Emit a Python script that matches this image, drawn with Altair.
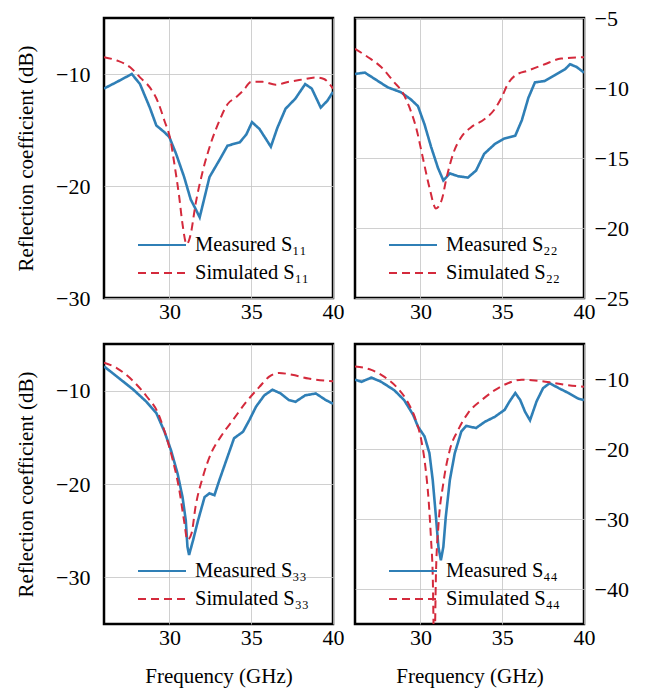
import altair as alt
import pandas as pd

BLUE = "#2f7fb6"
RED = "#d42a3c"
FONT = "Liberation Serif"

# ---- S11 ----
S11_MEAS_F = [26.0, 26.8, 27.7, 28.2, 28.8, 29.2, 29.7, 30.0, 30.4, 30.9, 31.3, 31.6, 31.85,
              32.05, 32.45, 33.05, 33.55, 34.3, 34.7, 35.05, 35.5, 35.9, 36.2, 36.6, 37.1,
              37.7, 38.3, 38.7, 39.25, 39.65, 40.0]
S11_MEAS_DB = [-11.3, -10.7, -10.0, -10.9, -13.0, -14.6, -15.2, -15.65, -17.1, -19.2, -21.2,
               -22.05, -22.8, -21.6, -19.2, -17.7, -16.4, -16.1, -15.4, -14.3, -14.9, -15.8,
               -16.5, -14.8, -13.1, -12.2, -10.9, -11.3, -13.0, -12.4, -11.6]
S11_SIM_F = [26.0, 26.8, 27.6, 28.2, 28.8, 29.3, 29.7, 30.05, 30.3, 30.6, 30.8, 31.05, 31.3,
             31.6, 32.05, 32.55, 33.05, 33.55, 34.05, 34.5, 35.0, 35.7, 36.5, 37.3, 38.1,
             38.95, 39.45, 40.0]
S11_SIM_DB = [-8.5, -8.8, -9.4, -10.3, -11.2, -12.5, -14.2, -15.8, -18.0, -21.0, -23.4, -25.2,
              -24.3, -21.6, -18.6, -16.1, -14.2, -12.7, -12.1, -11.5, -10.7, -10.7, -10.95,
              -10.7, -10.5, -10.3, -10.45, -11.3]

# ---- S22 ----
S22_MEAS_F = [26.0, 26.6, 27.2, 28.0, 28.8, 29.4, 29.85, 30.25, 30.65, 31.07, 31.4, 31.8,
              32.3, 32.9, 33.4, 33.9, 34.55, 35.15, 35.8, 36.2, 36.6, 37.0, 37.6, 38.2,
              38.85, 39.15, 39.55, 40.0]
S22_MEAS_DB = [-9.0, -8.9, -9.35, -9.95, -10.3, -10.8, -11.3, -12.6, -14.2, -15.7, -16.6,
               -16.1, -16.3, -16.4, -15.9, -14.7, -14.0, -13.6, -13.4, -12.3, -10.7, -9.6,
               -9.5, -9.1, -8.65, -8.3, -8.5, -8.9]
S22_SIM_F = [26.0, 26.8, 27.6, 28.4, 28.9, 29.3, 29.75, 30.15, 30.55, 30.95, 31.3, 31.6,
             32.0, 32.5, 33.1, 33.95, 34.55, 34.95, 35.35, 35.8, 36.6, 37.6, 38.6, 40.0]
S22_SIM_DB = [-7.2, -7.8, -8.5, -9.6, -10.3, -11.3, -12.9, -15.0, -17.1, -18.6, -18.0, -16.4,
              -14.7, -13.5, -12.8, -12.2, -11.5, -10.7, -9.7, -9.1, -8.75, -8.3, -7.9, -7.8]

# ---- S33 ----
S33_MEAS_F = [26.0, 26.8, 27.8, 28.6, 29.2, 29.7, 30.1, 30.5, 30.8, 31.0, 31.1, 31.2, 31.45,
              31.75, 32.15, 32.45, 32.75, 33.05, 33.55, 33.95, 34.5, 34.9, 35.3, 35.8, 36.3,
              36.8, 37.3, 37.7, 38.3, 38.95, 39.55, 40.0]
S33_MEAS_DB = [-7.4, -8.5, -9.9, -11.2, -12.4, -14.4, -16.4, -18.9, -21.4, -23.9, -26.7,
               -27.6, -26.0, -23.9, -21.4, -21.0, -21.2, -19.6, -17.1, -15.1, -14.4, -13.1,
               -11.7, -10.5, -9.9, -10.3, -11.0, -11.2, -10.5, -10.3, -11.0, -11.4]
S33_SIM_F = [26.0, 26.8, 27.8, 28.6, 29.3, 29.8, 30.2, 30.6, 30.9, 31.1, 31.35, 31.6, 32.05,
             32.55, 33.15, 33.9, 34.7, 35.5, 36.1, 36.7, 37.5, 38.5, 40.0]
S33_SIM_DB = [-7.0, -7.6, -9.0, -10.6, -12.4, -14.9, -17.4, -20.6, -24.0, -26.0, -25.3, -22.4,
              -19.2, -16.7, -14.9, -13.1, -11.2, -9.6, -8.5, -8.1, -8.3, -8.7, -9.0]

# ---- S44 ----
S44_MEAS_F = [26.0, 26.4, 27.0, 27.6, 28.4, 29.0, 29.55, 29.85, 30.25, 30.55, 30.75, 30.95,
              31.1, 31.25, 31.4, 31.55, 31.8, 32.1, 32.5, 32.8, 33.4, 33.95, 34.55, 35.15,
              35.45, 35.8, 36.1, 36.4, 36.7, 37.1, 37.5, 37.9, 38.45, 39.05, 39.65, 40.0]
S44_MEAS_DB = [-10.1, -10.4, -9.8, -10.4, -11.6, -13.0, -15.1, -16.8, -18.2, -20.6, -24.4,
               -29.7, -34.0, -35.9, -34.0, -29.7, -24.4, -20.6, -17.5, -16.7, -17.0, -16.1,
               -15.4, -14.4, -13.2, -12.0, -13.0, -14.7, -15.9, -13.2, -11.3, -10.6, -11.3,
               -12.0, -12.8, -13.0]
S44_SIM_F = [26.0, 27.0, 27.8, 28.6, 29.2, 29.75, 30.05, 30.3, 30.5, 30.65, 30.75, 30.85,
             30.95, 31.1, 31.4, 31.8, 32.3, 32.9, 33.75, 34.55, 35.35, 36.2, 37.0, 38.0,
             39.05, 40.0]
S44_SIM_DB = [-8.2, -8.7, -9.7, -11.3, -13.2, -16.1, -18.7, -22.5, -27.3, -33.0, -37.8, -50.0,
              -37.8, -31.0, -24.9, -20.1, -17.3, -14.9, -13.0, -11.6, -10.6, -10.1, -10.2,
              -10.5, -10.9, -11.1]

FREQ_TICKS = [30, 35, 40]


def panel(meas_f, meas_db, sim_f, sim_db, sub, y_domain, y_ticks, left, bottom):
    meas_name = f"Measured S{sub}"
    sim_name = f"Simulated S{sub}"
    meas = pd.DataFrame({"freq": meas_f, "db": meas_db, "series": meas_name})
    sim = pd.DataFrame({"freq": sim_f, "db": sim_db, "series": sim_name})
    names = [meas_name, sim_name]

    legend = alt.Legend(
        title=None, orient="none", legendX=33, legendY=213,
        symbolType="stroke", symbolSize=2304, symbolStrokeWidth=2,
        labelFont=FONT, labelFontSize=20.5, labelColor="black",
        labelOffset=8, clipHeight=28, rowPadding=0, padding=0,
    )
    color = alt.Color("series:N", scale=alt.Scale(domain=names, range=[BLUE, RED]),
                      legend=legend)
    dash = alt.StrokeDash("series:N", scale=alt.Scale(domain=names, range=[[1, 0], [8, 5]]),
                          legend=legend)

    x = alt.X("freq:Q", scale=alt.Scale(domain=[26, 40], nice=False, zero=False),
              axis=alt.Axis(values=FREQ_TICKS, labelFlush=False, labelPadding=3,
                            title="Frequency (GHz)" if bottom else None, titlePadding=17))
    y = alt.Y("db:Q", scale=alt.Scale(domain=y_domain, nice=False, zero=False),
              axis=alt.Axis(values=y_ticks, orient="left" if left else "right",
                            labelPadding=14 if left else 10,
                            title="Reflection coefficient (dB)" if left else None,
                            titlePadding=19))

    measured = alt.Chart(meas).mark_line(strokeWidth=2.6, clip=True).encode(
        x=x, y=y, color=color, strokeDash=dash)
    simulated = alt.Chart(sim).mark_line(strokeWidth=2, clip=True,
                                         interpolate="monotone").encode(
        x=x, y=y, color=color, strokeDash=dash)
    return alt.layer(measured, simulated).properties(width=229, height=280)


p11 = panel(S11_MEAS_F, S11_MEAS_DB, S11_SIM_F, S11_SIM_DB, "₁₁",
            [-30, -5], [-30, -20, -10], True, False)
p22 = panel(S22_MEAS_F, S22_MEAS_DB, S22_SIM_F, S22_SIM_DB, "₂₂",
            [-25, -5], [-25, -20, -15, -10, -5], False, False)
p33 = panel(S33_MEAS_F, S33_MEAS_DB, S33_SIM_F, S33_SIM_DB, "₃₃",
            [-35, -5], [-30, -20, -10], True, True)
p44 = panel(S44_MEAS_F, S44_MEAS_DB, S44_SIM_F, S44_SIM_DB, "₄₄",
            [-45, -5], [-40, -30, -20, -10], False, True)

chart = (
    alt.concat(p11, p22, p33, p44, columns=2, spacing={"row": 46, "column": 22},
               bounds="flush")
    .resolve_scale(color="independent", strokeDash="independent")
    .properties(padding={"left": 14, "top": 5, "right": 5, "bottom": 5}, background="white")
    .configure_view(stroke="black", strokeWidth=2.5)
    .configure_axis(
        grid=True, gridColor="#c4c4c4", gridWidth=0.8, domain=False, ticks=False,
        labelFont=FONT, labelFontSize=22, labelColor="black",
        titleFont=FONT, titleFontSize=21, titleFontWeight="normal", titleColor="black",
    )
)

chart.save("out.html", embed_options={"renderer": "svg", "actions": False})
